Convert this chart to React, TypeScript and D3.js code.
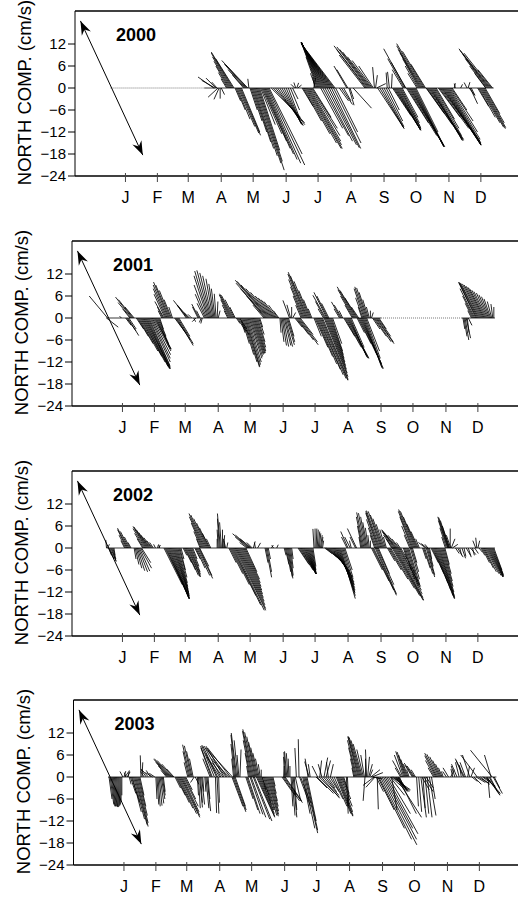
import React from 'react';
import * as d3 from 'd3';

// stick data: [day of year, east comp. (cm/s), north comp. (cm/s)]
const sticks2000 = [
  [98, -4.3, 3], [99, -3.6, 2.1], [100, -2.7, 2.7], [101, -1.4, 1.6], [102, -2.7, -2.5], [103, -1.4, -3.1], [104, 0, -2.9], [105, 0.9, -1.8],
  [110, -1.5, 2.5], [111, -2.5, 4.2], [112, -3.5, 6], [113, -4.3, 7.3], [114, -5, 8.5], [115, -5.6, 9.5], [116, -5.9, 9.8], [117, -5, 8],
  [118, 1.5, -3.5], [119, 2.5, -6], [120, 3.5, -8.5], [121, 4.5, -10.5], [122, 5.3, -12.3], [123, 5.5, -12.9], [124, 5, -12],
  [126, -3, 3.5], [127, -4.5, 5], [128, -5.8, 6.5], [129, -6.8, 7.5], [130, -6, 6.3], [131, -0.3, 2.5],
  [132, 2, -6], [133, 3, -9], [134, 4, -12], [135, 4.8, -14.7], [136, 5.3, -16.5], [137, 6, -18.5], [138, 6.7, -20.5], [139, 7.3, -22.4], [140, 6.5, -20], [141, 5.5, -17],
  [142, 4, -10], [143, 5.5, -12.5], [144, 6.5, -14.5], [145, 7.2, -16.5], [146, 7.8, -18], [147, 8.5, -19.5], [148, 9.2, -20.5], [149, 10, -21], [150, 9, -18],
  [152, 8, -8], [154, 8.5, -9.5], [156, 8, -10], [158, 7, -10.2], [160, 6.3, -10.2], [162, 5.5, -10], [164, 4.7, -9.8], [166, 4, -9.5], [168, 3.2, -8.5], [170, 2.5, -6], [172, 1.5, -3],
  [174, -1, 1], [175, -0.5, 1.5], [176, 0.5, 1.4], [177, 1, 0.8],
  [181, 3, -5], [182, 5, -9], [183, 7, -12.5], [184, 8.5, -15], [185, 9.5, -16.5], [186, 9.5, -16.5], [187, 9, -15.5], [188, 8.5, -14.5], [189, 8, -13], [190, 7, -11], [191, 5, -8],
  [192, 0.5, 2.8], [193, -0.6, 3],
  [194, -1.5, 4], [195, -3, 8.5], [196, -4.6, 12.5], [197, -4.9, 12.5], [198, -5.1, 12.5], [199, -5.4, 12.5], [200, -5.7, 12.5], [201, -6, 12.5], [202, -6.3, 12.5], [203, -6.6, 12.5],
  [204, -6.9, 12.4], [205, -7.2, 12.3], [206, -7.5, 12.3], [207, -7.8, 12.2], [208, -8, 12], [209, -8.3, 12], [210, -8.6, 12], [211, -8.8, 11.8], [212, -9, 11.8],
  [198.5, 6, -11], [200.5, 7, -13], [202.5, 7.5, -14.5], [204.5, 8, -15.5], [206.5, 8.2, -16.3], [208.5, 8, -16.5], [210.5, 7.5, -15], [212.5, 6, -12],
  [216, 2.5, -3.5], [218, 3, -4.5], [220, 2, -3.5], [223, -3.5, 6], [224, -3, 5], [225, 1.4, -4.7], [226, 1, -3], [229, 5, -5.5],
  [240, -7, 9], [241, -8, 10.5], [242, -9, 11.5], [243, -8.5, 11.2], [244, -8, 10.5], [245, -7.5, 9.8], [246, -6.5, 8.5], [247, -5.5, 7.5], [248, -4, 6], [249, -0.5, 5.7], [250, 0.5, 3.5], [251, 2.5, 1.2],
  [252, 7.2, -11], [254, 6.6, -11], [256, 6, -11], [258, 5.4, -10.5], [260, 4.5, -9], [262, 3, -6],
  [261, -0.3, 4.2], [263, -0.5, 4.4], [265, 0.2, 3.9],
  [266, 5, -7.5], [267, 7.4, -11.5], [268, 7.1, -11.5], [269, 6.8, -11.5], [270, 6.5, -11.5], [271, 6.2, -11.3], [272, 6, -11], [273, 5.5, -10.5], [274, 5, -9.5], [275, 4.3, -8],
  [276, -3, 5], [277, -4.5, 8], [278, -5.9, 10.7], [278.5, -4, 7],
  [279, 6, -9.5], [280, 8, -13], [281, 9.5, -15.5], [282, 9.6, -16], [283, 9.1, -16], [284, 8.8, -16], [285, 8.5, -16], [286, 8.2, -16], [287, 7.5, -15], [288, 6, -12],
  [289, -2.5, 4], [290, -3.5, 6], [291, -4.5, 8], [292, -5.5, 9.5], [293, -6.3, 10.5], [294, -7, 11.5], [295, -7.3, 12.1], [296, -6, 10], [297, -4, 6.5],
  [297.5, 5, -7], [298, 7, -10], [299, 8.5, -12.5], [300, 9.5, -14], [301, 9.2, -14.3], [302, 8.6, -14.3], [303, 8.3, -14.3], [304, 8, -14], [305, 7.5, -13], [306, 6.5, -11], [307, 5, -8.5],
  [309, 6, -8], [310, 8, -11], [311, 9.5, -13], [312, 10.5, -14.5], [313, 10.5, -15.5], [314, 10.2, -15.6], [315, 9.9, -15.6], [316, 9.6, -15.5], [317, 9.3, -15.3], [318, 9, -15], [319, 8.5, -14], [320, 7.5, -12], [321, 6, -9], [322, 4, -6],
  [324, 0.3, 1.3], [325, -0.3, 1.2], [330, 0.5, 1], [336, -0.8, 1.5], [337, 0.5, 1.6], [338, 1.5, -2], [339, 2, -4.3], [340, 1, -2],
  [346, 3, -5], [347, 4.5, -8], [348, 5.5, -9.5], [349, 6.2, -10.7], [350, 6.4, -11.1], [351, 6.2, -10.8], [352, 5.5, -9.5], [353, 4, -7],
  [353.5, -3, 4], [354, -4.5, 6], [355, -6, 8], [356, -7, 9.2], [357, -8, 10.2], [358, -8.6, 10.7], [359, -7.5, 9.5], [360, -4, 5],
];

const sticks2001 = [
  [0, 3.2, -2.5], [1, -5, 6], [14, -0.5, 0.5],
  [18, 1.5, -2], [19, 2.5, -3.5], [20, 3, -4.8], [21, 2, -3],
  [22, -2, 2.5], [23, -3.5, 4.2], [24, -4.5, 5.7], [25, -4, 5], [26, -2.5, 3],
  [28, 2, -3], [29, 3, -5], [30, 4, -7], [31, 5, -9], [32, 5.8, -10.5], [33, 6.4, -12], [34, 6.9, -13.2], [35, 7, -13.8], [36, 6.9, -13.8], [37, 6.6, -13.8], [38, 6.3, -13.8],
  [39, 6.1, -13.5], [40, 5.7, -13], [41, 5.5, -12], [42, 5.2, -11], [43, 5, -10], [44, 4.8, -9], [45, 4.6, -8.5], [46, 4.2, -8.5], [47, 3.6, -8], [48, 3, -7], [49, 2, -5], [50, 1, -3],
  [52, -1, 2], [53, -1.5, 3], [54, -2.5, 4.5], [55, -3, 6.5], [56, -3.5, 8], [57, -3.8, 9], [58, -4, 9.8], [59, -3.7, 9], [60, -3, 7.5], [61, -2, 5], [62, -1, 3],
  [64, 3, -4], [65, 4, -6], [66, 4.5, -7.5], [67, 4.2, -7], [68, 3, -5],
  [75, -2.5, 3.5], [76, -3.8, 4.8], [77, -3, 3.5], [78, -1.5, 1.5],
  [80, -1, 1], [82, 0.5, -1], [84, -1, -1], [86, -1.5, 3], [87, -2, 3.8], [88, -1, 2], [89, -0.5, -1.2], [90, -0.4, -1.5],
  [92, -2, 4], [93, -2.8, 6.5], [94, -3.4, 9], [95, -3.7, 11.5], [96, -3.8, 12.8], [97, -3.5, 13], [98, -3, 12.3], [99, -2.5, 11.5], [100, -1.9, 10.7], [101, -1.4, 9.3], [102, -1, 8], [103, -0.5, 6.6], [104, 0.2, 4.5], [105, 0.5, 2],
  [114, -1, 2], [115, -1.8, 3.5], [116, -2.5, 5], [117, -3.2, 6.3], [118, -3.4, 6.6], [119, -3.2, 6.2], [120, -2.5, 5], [121, -1.5, 3],
  [122, 1, -1.5], [123, 2.2, -3.5], [124, 3, -4.7], [125, 2, -3],
  [126, 1.2, -4], [127, 2.1, -7], [128, 3, -10], [129, 3.6, -12], [130, 4, -13.4], [131, 3.8, -13.2], [132, 3.7, -12.7], [133, 3.6, -12], [134, 3.5, -11], [135, 3.4, -10.5], [136, 3.3, -10],
  [137, 3.2, -9.8], [138, 3.1, -9.6], [139, 3, -9.5], [140, 2.8, -9], [141, 2.5, -8], [142, 2, -6.5], [143, 1.5, -4.5], [144, 0.8, -2.5],
  [148, -3, 3.5], [149, -5, 6], [150, -7, 8], [151, -8.5, 9.5], [152, -9, 10.3], [153, -8.8, 10], [154, -8, 9], [155, -7, 8], [156, -6, 7], [157, -5, 6], [158, -4.5, 5.5], [159, -4, 5], [160, -3.5, 4.5], [161, -2.5, 3.5], [162, -1.5, 2],
  [163, 0.3, -4], [164, 0.8, -6.5], [165, 1.2, -7.5], [166, 1.5, -7.8], [167, 1.8, -7.5], [168, 2, -7.8], [169, 2.2, -7.3], [170, 2, -6.5], [171, 1.5, -5],
  [172, -1.8, 4.8], [173, -1, 3.6], [174, 0, 3], [175, 0.8, 1.5],
  [177, 2, -2.5], [178, 3.5, -4.5], [179, 4.5, -6], [180, 5.5, -7.3], [181, 5, -6.5], [182, 3.5, -4.5],
  [183, -1.5, 3.5], [184, -2.5, 6], [185, -3.5, 8.5], [186, -4.3, 10.5], [187, -4.8, 12], [188, -5, 12.5], [189, -4.7, 11.5], [190, -4, 10], [191, -3, 7.5], [192, -2, 5], [193, -1, 2.5],
  [195, 2, -5], [196, 3.5, -8], [197, 4.5, -10.5], [198, 5.3, -12.5], [199, 6, -14], [200, 6.5, -15.5], [201, 7, -16.5], [202, 7.2, -17], [203, 7, -16.8],
  [204.5, 6.5, -16], [205.5, 6, -15], [206.5, 5.5, -14], [207.5, 5, -13], [208.5, 4.5, -12], [209.5, 4, -11], [210.5, 3.5, -10], [211.5, 3, -9], [212.5, 2.5, -7],
  [204, -1.5, 2.5], [205, -2.5, 4.5], [206, -3.5, 6.2], [207, -3.5, 7], [208, -3, 6], [209, -2, 4],
  [219, -1.5, 2.5], [220, -2.5, 4.4], [221, -2, 3.5], [222, -1, 2],
  [223, 3, -5], [224, 4.5, -8], [225, 5.5, -10], [226, 6, -11], [227, 5.5, -11], [228, 5, -10.8], [229, 4.5, -10.5], [230, 3.5, -8],
  [231, -2, 3.5], [232, -3.5, 6], [233, -4.5, 7.7], [234, -5, 8.5], [235, -4.5, 7.5], [236, -3.5, 5.5], [237, -2, 3],
  [235.5, 2, -4], [236.5, 3.5, -7], [237.5, 4.8, -10], [238.5, 5.8, -12.5], [239.5, 6, -13.8], [240.5, 5.5, -13.8], [241.5, 5, -13.5], [242.5, 4.5, -12.5], [243.5, 4, -11], [244.5, 3.5, -9],
  [240, -1, 3], [241, -2, 5.5], [242, -2.7, 8], [243, -2.8, 8.5], [244, -2.6, 8.2], [245, -2.2, 7], [246, -1.5, 5], [247, -0.8, 3], [248, 0, 2], [249, 0.5, 1.5],
  [250, 2, -3], [251, 3.5, -5], [252, 4.5, -6.5], [253, 5, -7], [254, 4.5, -6.5], [255, 3.5, -5], [256, 2, -3],
  [335, 0.5, -3], [336, 0.8, -5], [337, 1, -6], [338, 1.2, -5.5], [339, 0.5, -4], [340, 1, -2],
  [343, -1, 2], [344, -2, 4], [345, -3, 6], [346, -4, 8], [347, -4.5, 9.5], [348, -5, 9.8], [349, -5, 9.7], [350, -5, 9.5], [351, -4.8, 9.3], [352, -4.6, 9], [353, -4.4, 8.7],
  [354, -4.2, 8.4], [355, -4, 8], [356, -3.7, 7.6], [357, -3.4, 7.2], [358, -3, 6.8], [359, -2.6, 6.3], [360, -2.2, 5.8], [361, -1.8, 5.2], [362, -1.2, 4.5], [363, -0.5, 3.8], [364, 0, 3],
];

const sticks2002 = [
  [0, -0.2, 2.2], [1, 0.5, 1],
  [2, 0.8, -2], [3, 1.2, -3], [4, 1.4, -3.5], [5, 1.2, -3.7], [6, 0.8, -3], [7, 0.3, -2],
  [17, -1, 2], [18, -1.8, 3.5], [19, -2.5, 5], [20, -2.8, 5.4], [21, -2.3, 4.5], [22, -1.5, 3], [23, -0.8, 1.5],
  [26, 0.5, -3], [27, 1, -4.5], [28, 1.5, -5.5], [29, 2, -6.2], [30, 2.5, -6.5], [31, 2.8, -6.3], [32, 3, -5.5], [33, 2.5, -4],
  [34, -1.5, 2.5], [35, -2.5, 4], [36, -3.2, 5.3], [37, -3.5, 5.9], [38, -3.5, 5.7], [39, -3.2, 5], [40, -2.8, 4.2], [41, -2.5, 3.5], [42, -2, 2.8], [43, -1.5, 2], [44, -1, 1.5],
  [46, -0.5, 1], [48, 0.2, 0.8], [49, 0.5, 0.8], [50, -0.3, 1],
  [54, 5, -10], [55, 6.5, -13], [56, 6.3, -13.8], [57, 6, -13.8], [58, 5.7, -13.8], [59, 5.4, -13.8], [60, 5.2, -13.8], [61, 4.9, -13.5], [62, 4.6, -13], [63, 4.2, -12.5],
  [64, 3.8, -12], [65, 3.4, -11.3], [66, 3, -10.5], [67, 2.6, -9.5], [68, 2.2, -8], [69, 1.5, -6], [70, 0.8, -3],
  [72, 1, -2], [73, 2, -4], [74, 2.8, -6], [75, 3.3, -7.5], [76, 3.5, -7.9], [77, 3.3, -7.8], [78, 3, -7.2], [79, 2.6, -6.5], [80, 2, -5], [81, 1.2, -3],
  [83, 1.5, -3], [84, 2.5, -5.5], [85, 3.5, -7.5], [86, 4, -8.3], [87, 3.5, -7.5], [87.5, 2.5, -5],
  [88, -1, 2.5], [89, -2, 4.5], [90, -3, 6.8], [91, -3.8, 8.5], [92, -4.2, 9.4], [93, -4, 9], [94, -3.5, 8], [95, -3, 6.8], [96, -2.5, 5.5], [97, -2, 4], [98, -1.2, 2.5],
  [104, 0, 2.5], [105, -0.3, 5], [106, -0.5, 8], [107, -0.8, 9.4], [108, -0.5, 7], [109, 0, 5], [110, 0.3, 3.5], [111, -0.3, 2.5], [112, -0.5, 2], [113, 0.3, 1.5],
  [115, 2, -4], [116, 3.5, -7], [117, 5, -10], [118, 6.5, -13], [119, 7.5, -15.5], [120, 8.2, -17], [121, 8.3, -17], [122, 8, -16.5], [123, 7.5, -15.5], [124, 7, -14.5],
  [125, 6.5, -13.5], [126, 6, -12.5], [127, 5.5, -11.5], [128, 5, -10.5], [129, 4.5, -9.5], [130, 4, -8.5], [131, 3, -6.5],
  [132, -2, 1.5], [133, -3.5, 3], [134, -4.5, 3.9], [135, -4, 3.5], [136, -3, 2.5], [137, -1.5, 1.5],
  [138, 0.5, 1.8], [140, -0.3, 1.5], [142, 0.8, 1.4],
  [149, 0.8, -4], [150, 1.5, -8], [151, 1.2, -6.5], [152, 0.6, -3],
  [155, 0.5, 0.8], [157, -0.5, 0.7], [160, 0.4, 0.9],
  [167, 0.5, -2], [168, 1, -4.5], [169, 1.2, -6.5], [170, 1.3, -7.8], [171, 1.2, -8.3], [172, 1, -7.5], [173, 0.7, -5.5], [174, 0.4, -3],
  [180, 3, -4.5], [181, 3.8, -6], [182, 4.3, -7], [183, 4, -7], [184, 3.7, -7], [185, 3.5, -7], [186, 3.2, -7], [187, 2.9, -7], [188, 2.6, -7], [189, 2.3, -7],
  [190, 2, -7], [191, 1.7, -6.8], [192, 1.4, -6.5], [193, 1.1, -6], [194, 0.8, -5],
  [195, -0.3, 5.2], [196, 0, 5.3], [197, 0.2, 5.3], [198, 0.3, 5], [199, 0.4, 4.5], [200, 0.4, 4], [201, 0.5, 3.5], [202, 0.4, 3], [203, 0.3, 2],
  [205, 2, -1.5], [206, 3, -2.5], [207, 4, -3.5], [208, 4.5, -4.5], [209, 5, -5.3], [210, 5.3, -6.2], [211, 5.4, -7], [212, 5.5, -7.8], [213, 5.5, -8.5], [214, 5.4, -9.3],
  [215, 5.2, -10], [216, 5, -10.8], [217, 4.8, -11.5], [218, 4.5, -12.2], [219, 4.3, -13], [220, 4, -13.8], [221, 3.5, -12], [222, 3, -10], [223, 2.5, -8], [224, 2, -6],
  [226, -1.5, 3], [227, -2, 4.5], [229, -1.5, 3], [230, -0.5, 2], [234, -1.5, 3], [235, -2.5, 5.3],
  [239, -0.5, 3], [240, -1.2, 6], [241, -1.8, 8.5], [242, -2, 9.7], [243, -1.8, 9.5], [244, -1.5, 8.5], [245, -1.2, 7], [246, -0.8, 5.5], [247, -0.4, 3.5], [248, 0, 2],
  [249, 3, -6], [250, 4.5, -9], [251, 5.5, -11.5], [252.5, 5.8, -12.9], [253.5, 5.5, -12.5], [254.5, 4.5, -10], [255.5, 3, -7],
  [252, -1.2, 3.5], [253, -2, 5.5], [254, -2.8, 7.8], [255, -3.3, 9.5], [256, -3.6, 10], [257, -3.7, 10.2], [258, -3.5, 10], [259, -3.2, 9], [260, -2.8, 8], [261, -2.2, 6.5], [262, -1.5, 5], [263, -0.8, 3],
  [264, 2, -3.5], [265, 3.5, -6], [266, 5, -8.5], [267, 6.5, -11], [268.5, 7.5, -13], [269.5, 8.2, -14.3], [270.5, 8, -14.2], [271.5, 7.5, -13.5], [272.5, 7, -12.5], [273.5, 6.5, -11.5], [274.5, 6, -10.5], [275.5, 5, -9], [276.5, 4, -7],
  [268, -1.5, 2.5], [269, -2.5, 3.5], [270, -3.2, 4.5], [271, -3.6, 5], [272, -3.8, 4.8], [273, -3.5, 4.2], [274, -2.8, 3.5], [275, -2, 2.5], [276, -1, 1.5],
  [279, 1, -3], [280, 1.8, -6], [281, 2.5, -8.5], [282, 3, -10], [283, 3.2, -10.6], [284, 3, -10], [285.5, 2.5, -8.5], [286.5, 2, -6.5], [287.5, 1.2, -4],
  [285, -1.5, 3.5], [286, -2.5, 6], [287, -3.3, 8.5], [288, -4, 10], [289, -4.2, 10.5], [290, -4, 10], [291, -3.5, 8.5], [292, -2.8, 6.5], [293, -2, 4.5], [294, -1, 2.5],
  [297, 1, -3], [298, 1.8, -5.5], [299, 2.2, -7], [300.5, 2.3, -7.9], [301.5, 2, -7.3], [302.5, 1.3, -5], [303.5, 0.6, -3],
  [300, -2, 1.5], [301, -1.5, 1.2], [302, -0.8, 1],
  [305, 2, -4], [306, 3.2, -7], [307, 4, -9.5], [308, 4.5, -11.5], [309, 4.8, -13], [310, 4.9, -13.8], [311, 4.7, -13.8], [312, 4.4, -13.5], [313, 4, -13], [314, 3.6, -12], [315, 3.1, -10.5], [316, 2.6, -9], [317, 2, -7], [318, 1.2, -4.5],
  [318.5, -1, 3], [319.5, -1.8, 5.5], [320.5, -2.5, 7.5], [321, -2.8, 8.5], [321.5, -2.7, 8.3], [322, -2.4, 7.5], [322.5, -2, 6], [323, 0, 5.3], [323.5, -1.2, 3.5], [324, 1, 2.5], [325, 1.5, 1],
  [328, 1, -1.5], [330, 1.5, -2.5], [332, 0.5, -2], [334, 1, -2.8], [336, 0.5, -2.3], [338, 1.2, -2], [340, 0.8, -2.5], [342, 1.5, -1.8], [344, 0.5, -2], [346, 1, -1.5],
  [347, -0.8, 2], [348, -0.3, 2.8], [349, 0.5, 2], [350, 1, -1.2],
  [352, 1, -2], [353, 2, -4], [354, 2.8, -5.5], [355, 3.3, -6.5], [356, 3.7, -7], [357, 4, -7.5], [358, 4.2, -7.9], [359, 4, -7.9], [360, 3.8, -7.8], [361, 3.5, -7.6], [362, 3.2, -7.4], [363, 2.8, -7], [364, 2.2, -6],
];

const sticks2003 = [
  [1, 0.8, -6], [2, 1, -7.5], [3, 1, -8], [4, 0.9, -8], [5, 0.8, -8], [6, 0.7, -8], [7, 0.6, -8.2], [8, 0.5, -8.2], [9, 0.4, -8], [10, 0.3, -7.8], [11, 0.2, -7.5], [12, 0.1, -6.5], [13, 0, -5],
  [14, -0.8, 1.5], [15, 0.5, 1.6], [16, 1, 1.5], [17, -0.5, 1.2], [18, 0.8, 1.4], [19, 0.3, 1.8],
  [20, 0.5, -2], [21, 1.5, -4.5], [22, 2.3, -7], [23, 2.4, -9.5], [24, 3, -11.5], [25, 3.4, -13], [26, 3.4, -13.5], [27, 3.1, -12.5], [28, 2.6, -10.5], [29, 1.9, -8], [30, 1.1, -5],
  [31, -0.2, 5.9], [32, 0.2, 4],
  [34, -1, 1.5], [36, -1.5, 2], [38, -2, 2.2], [40, -1.2, 1.8], [42, -2, 1.2], [44, -1.5, 1],
  [45, 0.3, -6], [46, 0.5, -7.5], [47, 0.6, -8], [48, 0.8, -7.8], [49, 1, -7.2], [50, 1, -6], [51, 0.8, -5], [52, 0.5, -4],
  [55, -1.5, 1.8], [56, -2.5, 3], [57, -3.5, 4], [58, -4.3, 4.8], [59, -4.5, 5], [60, -4, 4.5], [61, -3, 3.5], [62, -2, 2.2],
  [63, 1.5, -3], [64, 2.5, -5], [65, 3.3, -7], [66, 4, -8.5], [67, 4.7, -10], [68, 5.3, -11], [69, 5, -10.5], [70, 4.5, -9.5], [71, 4, -8], [72, 3, -6], [73, 1.8, -3.5],
  [75, -1, 4], [76, -1.6, 7], [77, -2, 8.8], [78, -1.8, 8.5], [79, -1.5, 7], [80, -1, 5],
  [81, -1, -1.5], [82, 1, -2],
  [84, 0.3, -5], [85, 0.5, -8.5], [86, 0.8, -8.3], [87, 0.5, -7], [88, 0.8, -7.5], [89, 0.3, -4],
  [91, 0.3, -4], [92, 0.8, -8.5], [93, 1, -9.3], [94, 0.5, -6],
  [96, -2, 5], [97, -2.8, 7.9], [98, -3.2, 8.4], [100, -3.5, 8.6], [102, -3, 6.5], [103, -4.1, 8.6], [105, -3.5, 5.5], [106, -4.5, 8.4], [108, -3, 4], [109, -4.9, 8.4],
  [111, -4, 5], [112, -5.8, 7.9], [114, -3, 3], [115, -6.2, 7.9], [117, -6.4, 7],
  [101, 0.3, -9.8], [102.5, 0.5, -10], [104, 0.2, -7],
  [116.5, 3, -8], [117.5, 3.5, -9.5], [118.5, 3.3, -9], [119.5, 2.8, -8],
  [118, -0.5, 5], [119, -1, 9], [120, -1.3, 11.5], [121, -1.5, 12], [122, -1, 10], [123, -0.5, 6], [124, 0.3, 7.5],
  [129.5, 2, -6], [130.5, 3, -9], [131.5, 3.3, -10], [133.5, 3.5, -10.2], [134.5, 4, -11], [136.5, 4.5, -11.5], [137.5, 4.8, -12], [139.5, 5, -11], [140.5, 4.7, -10.7], [141.5, 4.3, -10], [142.5, 3.8, -9], [143.5, 3, -7.5], [144.5, 2, -5],
  [132, -0.5, 3], [133, -1.2, 6.5], [134, -2, 10], [135, -2.5, 12.5], [136, -2.7, 13], [137, -2.5, 12.2], [138, -2.2, 11], [139, -2, 9.5], [140, -1.7, 8], [141, -1.4, 6.5], [142, -1, 5], [143, -0.5, 3.5], [144, 0, 2],
  [145, 1, -3.5], [146, 2, -6.5], [147, 2.7, -9], [148, 3.1, -10.5], [149, 3.2, -10.7], [150, 3, -10.2], [151, 2.7, -9.3], [152, 2.3, -8], [153, 1.8, -6.5], [154, 1.2, -4.5], [155, 0.6, -2.5],
  [163.5, 3.5, -5], [164.5, 4.5, -6.5], [165.5, 5, -7], [166.5, 4.5, -6.5],
  [165, 0.2, 3], [166, -0.3, 5.5], [167, -0.5, 6.8], [168, -0.6, 7], [169, -0.4, 6.5], [170, -0.2, 5], [171, 0, 3],
  [172, 0.5, -8], [173, 0.8, -10.5], [174, 1, -11], [175, 0.7, -9], [176, 1.5, -6.5], [177, -0.4, 7.9], [179.5, -0.2, 10.3], [180, 3, -8], [181, 2.7, -7],
  [183, 2, -10], [184, 3, -14], [185, 3.5, -15.3], [186, 3.2, -14.5], [187, 2.5, -12],
  [188, -0.8, 5], [189, -1.2, 4.2], [190, -0.5, 3.5],
  [195.5, 3, -3], [196.5, 4.5, -4.5], [198.5, 5.5, -5.5], [200.5, 5, -5.8], [202.5, 4.2, -5], [204.5, 3, -4], [206.5, 2, -3], [208.5, 2.5, -4], [210.5, 3, -6], [212.5, 3.5, -8],
  [214.5, 4, -10], [215.5, 4.2, -10.7], [216.5, 4, -10.5], [217.5, 3.6, -9.5], [218.5, 3.2, -8], [219.5, 2.5, -6], [220.5, 1.8, -4.5], [221.5, 1, -3],
  [197, -1.5, 3], [199, 0.5, 4.5], [201, -1, 3.5], [203, 1, 5.3], [205, 1.2, 4.5], [207, -0.5, 4], [209, 0.8, 3.5],
  [224, 0.5, -10], [225, 0.4, -8],
  [231, -0.5, 2.5], [232, -1.2, 5], [233, -2, 8], [234, -2.6, 10], [235, -2.8, 11], [236, -3, 11.1], [237, -3, 10.8], [238, -2.8, 10], [239, -2.5, 9], [240, -1.8, 7.5],
  [241, -1, 6], [242, 0, 5], [243, -0.3, 7.5], [244, 0.5, 5.5], [245, 1, 3.5], [246, 0.8, 2],
  [241.5, -0.5, -6.5], [253, 0.3, -8.8],
  [247, 2.5, 2], [248, 3, 1.2], [249, 2.5, -0.5], [250, -3, -2.3], [251, -2.5, -2.8],
  [252, 2, -4], [253.5, 4.5, -9], [254.5, 7, -14], [256, 8.5, -17], [257.5, 9.5, -18.5], [259, 9, -17], [260.5, 7.5, -14], [262, 8.5, -15.5], [263.5, 6, -10],
  [265, 4, -5], [266, 4.5, -4], [267, 5, -3.5], [268, 4.5, -3.8], [269, 4, -4], [270, 3.5, -3.5], [271, 3, -3.8], [272, 2.5, -3.5], [273, 2, -3], [274, 1, -2.5],
  [270.5, 7, -11], [272.5, 5, -10], [266.5, 1.5, -9],
  [275, -1.5, 2.5], [276, -2.5, 4.5], [277, -2.3, 6], [278, -2.2, 7], [279, -2.1, 6.8], [280, -2, 6], [281, -1.7, 4.8], [282, -1.3, 3.5], [283, -0.7, 2],
  [286, -2, 3.2], [287, -2.5, 3.8], [288, -2, 3], [289, -1.2, 2],
  [290, 0.5, -8], [292, 0.8, -9.5], [294, 1.5, -11], [296, 0.6, -8.5], [298, 1, -10], [300, 1.3, -11], [302, 1.8, -10.5], [304, 1, -6],
  [295, 2, -3.5], [297, 2.5, -4], [299, 2, -3],
  [306, -1.5, 2.5], [307, -2.5, 4.5], [308, -3, 5.8], [309, -3.3, 6.5], [310, -3, 6.2], [311, -2.5, 5.5], [312, -2, 4.5], [313, -1.5, 3.5], [314, -1, 2.5], [315, -0.5, 1.5],
  [318, -1, 1.5], [320, -1.5, 2.5], [322, 1, 2], [324, -0.5, 2.2], [326, -1, 3], [328, -1.5, 3.5], [330, -1, 4], [332, -0.5, 3.2], [334, -2, 4.5], [335, -2.5, 5], [336, -1.5, 4], [338, 0.5, 3], [340, -2, 6], [341, 1, 2.5],
  [342, 1.5, -1.2], [344, 2, -2], [346, 2.5, -1.5], [347, -4.5, 6], [348, 3, -1.8], [350, 2.5, -2], [352, 3.5, -2.5], [353, 2, -1.2],
  [355, 4, -4.5], [356, 3.5, -4.8], [357, 0.5, -5.7], [358, 3, -5], [359, 2, -4], [360, -1.8, 6], [361, -5.9, 7.3], [362, 2.5, -4.5], [363, 1.5, -3],
];

const years = ['2000', '2001', '2002', '2003'];
const yearSticks = [sticks2000, sticks2001, sticks2002, sticks2003];
// record coverage [start day, end day] and gaps drawn as a dotted zero line
const recorded = [[[89, 361]], [[0, 258], [334, 365]], [[0, 365]], [[0, 365]]];
const gaps = [[[1, 89]], [[258, 334]], [], []];

const monthLabels = ['J', 'F', 'M', 'A', 'M', 'J', 'J', 'A', 'S', 'O', 'N', 'D'];
const monthMidDays = [15, 45, 74, 105, 135, 166, 196, 227, 258, 288, 319, 349];
const yTicks = [12, 6, 0, -6, -12, -18, -24];
// principal-axis scale vector drawn as a double arrow (cm/s)
const scaleVector = { day: 2, u: -8.5, v: 18.3 };

const W = 518;
const H = 898;
const panelTops = [11, 241, 471, 700];
const panelShift = [0, -3, -3, -1.5];
const panelH = 165;
const FONT = '"Liberation Sans", Arial, Helvetica, sans-serif';

function arrowHead(px: number, py: number, dx: number, dy: number) {
  const len = Math.hypot(dx, dy);
  const ux = dx / len, uy = dy / len;
  const nx = -uy, ny = ux;
  const L = 14, w = 5, notch = 9.5;
  const bx = px - ux * L, by = py - uy * L;
  const cx = px - ux * notch, cy = py - uy * notch;
  return `M${px},${py}L${bx + nx * w},${by + ny * w}L${cx},${cy}L${bx - nx * w},${by - ny * w}Z`;
}

function Panel({ i }: { i: number }) {
  const top = panelTops[i];
  const bottom = top + panelH;
  const sh = panelShift[i];
  const left = 75 + sh;
  const y = d3.scaleLinear().domain([-24, 21]).range([bottom, top]);
  const x = d3.scaleLinear().domain([0, 365]).range([109.5 + sh, 497.9 + sh]);
  const y0 = y(0);
  const k = (val: number) => y0 - y(val);

  const sticks = yearSticks[i]
    .map(([d, u, v]) => `M${x(d).toFixed(2)},${y0.toFixed(2)}L${(x(d) + k(u)).toFixed(2)},${y(v).toFixed(2)}`)
    .join('');

  const ax = x(scaleVector.day);
  const adx = k(scaleVector.u);
  const ady = k(scaleVector.v);
  const p1 = [ax + adx, y0 - ady];
  const p2 = [ax - adx, y0 + ady];

  return (
    <g>
      {/* frame */}
      <line x1={left} x2={W + 2} y1={top} y2={top} stroke="#000" strokeWidth={1.3} />
      <line x1={left} x2={left} y1={top} y2={bottom} stroke="#000" strokeWidth={1} />
      <line x1={left} x2={W + 2} y1={bottom} y2={bottom} stroke="#000" strokeWidth={1.5} />
      {yTicks.map((t) => (
        <g key={t}>
          <line x1={left - 7} x2={left} y1={y(t)} y2={y(t)} stroke="#000" strokeWidth={1} />
          <text x={left - 9} y={y(t)} dy="0.36em" textAnchor="end" fontSize={15} fontFamily={FONT}>
            {t < 0 ? `\u2212${-t}` : t}
          </text>
        </g>
      ))}
      {monthMidDays.map((d, j) => (
        <g key={j}>
          <line x1={x(d)} x2={x(d)} y1={bottom - 3} y2={bottom + 6} stroke="#444" strokeWidth={1} />
          <text x={x(d)} y={bottom + 27} textAnchor="middle" fontSize={16} fontFamily={FONT}>
            {monthLabels[j]}
          </text>
        </g>
      ))}
      <text
        transform={`translate(${left - 44},${(top + bottom) / 2 - 1}) rotate(-90)`}
        textAnchor="middle"
        fontSize={18.5}
        fontFamily={FONT}
      >
        NORTH COMP. (cm/s)
      </text>
      <text x={left + 41} y={top + 30} fontSize={18} fontWeight="bold" fontFamily={FONT}>
        {years[i]}
      </text>

      {/* zero line */}
      {gaps[i].map(([a, b], j) => (
        <line key={'g' + j} x1={x(a)} x2={x(b)} y1={y0} y2={y0} stroke="#777" strokeWidth={1} strokeDasharray="1,1" />
      ))}
      {recorded[i].map(([a, b], j) => (
        <line key={'r' + j} x1={x(a)} x2={x(b)} y1={y0} y2={y0} stroke="#222" strokeWidth={0.9} />
      ))}

      {/* sticks */}
      <path d={sticks} stroke="#000" strokeWidth={0.85} fill="none" />

      {/* scale arrow */}
      <line x1={p1[0]} y1={p1[1]} x2={p2[0]} y2={p2[1]} stroke="#000" strokeWidth={1} />
      <path d={arrowHead(p1[0], p1[1], adx, -ady)} fill="#000" />
      <path d={arrowHead(p2[0], p2[1], -adx, ady)} fill="#000" />
    </g>
  );
}

export default function App() {
  return (
    <svg
      width={W}
      height={H}
      viewBox={`0 0 ${W} ${H}`}
      style={{ position: 'absolute', left: 0, top: 0, background: '#fff' }}
    >
      <rect width={W} height={H} fill="#fff" />
      {years.map((_, i) => (
        <Panel key={i} i={i} />
      ))}
    </svg>
  );
}
